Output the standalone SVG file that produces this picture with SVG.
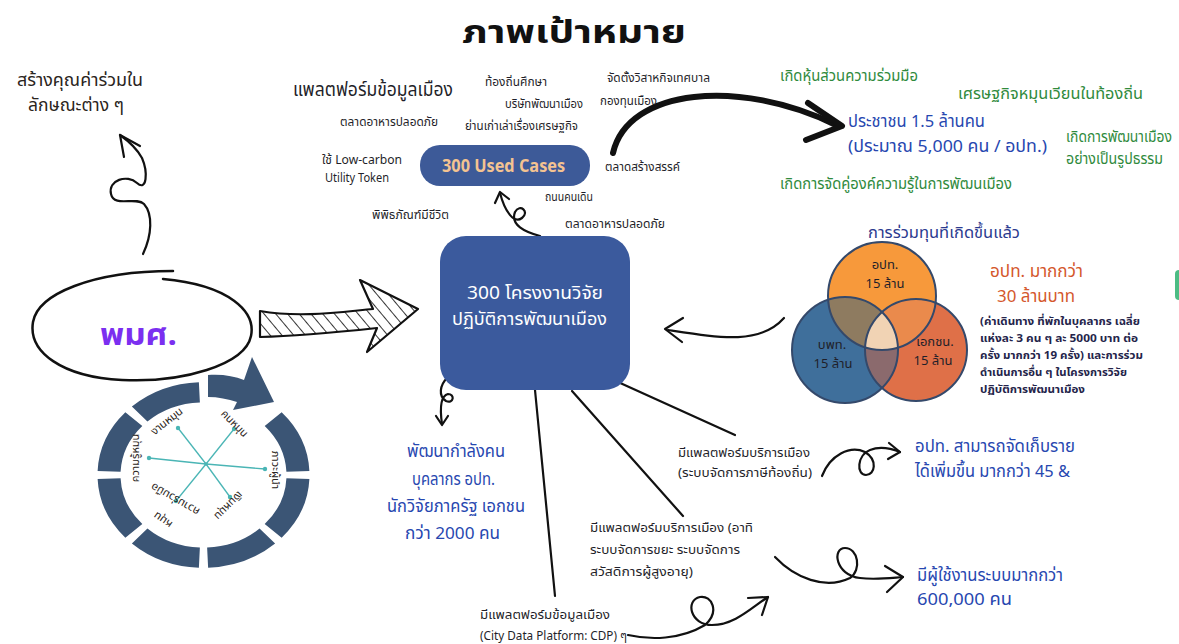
<svg xmlns="http://www.w3.org/2000/svg" width="1179" height="644" viewBox="0 0 1179 644">
<style>
text{font-family:'Noto Sans Thai','Noto Sans','DejaVu Sans',sans-serif;}
.dk{fill:#1f1f2a;font-size:12px}
.bl{fill:#2747b0;font-size:17px}
.gr{fill:#2f8a3c;font-size:15px}
.nv{fill:#24244a;font-size:11px;font-weight:bold}
.ring{fill:#3b5575}
.ln{fill:none;stroke:#111;stroke-width:2.2;stroke-linecap:round;stroke-linejoin:round}
.spk{stroke:#4ab5b5;stroke-width:1.3}
.dot{fill:#4ab5b5}
</style>
<defs>
<pattern id="hatch" width="9" height="9" patternUnits="userSpaceOnUse" patternTransform="rotate(-40)">
<line x1="0" y1="0" x2="0" y2="9" stroke="#111" stroke-width="1.7"/>
</pattern>
<clipPath id="cA"><circle cx="882" cy="296" r="54"/></clipPath>
<clipPath id="cB"><circle cx="845" cy="350" r="53"/></clipPath>
</defs>
<rect width="1179" height="644" fill="#ffffff"/>

<text x="462" y="43" textLength="224" lengthAdjust="spacingAndGlyphs" style="font-size:32px;font-weight:bold;fill:#111">ภาพเป้าหมาย</text>

<g id="connectors">
<path class="ln" d="M143,254 C152,235 153,214 144,204 C136,196 114,208 111,194 C108,180 127,174 137,183 C147,192 148,172 142,158 C136,147 127,140 120,135"/>
<path class="ln" d="M140,146 L120,135 L124,157"/>
<path class="ln" d="M540,236 C525,232 510,225 515,212 C520,203 530,212 522,218 C514,224 505,212 500,193"/>
<path class="ln" d="M495,203 L500,192 L509,199"/>
<path d="M613,153 C628,88 740,78 836,125" fill="none" stroke="#111" stroke-width="6" stroke-linecap="round"/>
<path d="M808,103 L842,126 L806,140" fill="none" stroke="#111" stroke-width="6" stroke-linecap="round" stroke-linejoin="round"/>
<path class="ln" d="M784,318 C760,345 720,338 668,330" stroke-width="2"/>
<path class="ln" d="M683,318 L665,329 L682,342"/>
<path class="ln" d="M447,378 C440,385 438,396 446,401 C454,404 455,394 448,394 C440,396 440,410 442,424"/>
<path class="ln" d="M436,416 L442,425 L448,416"/>
<line class="ln" x1="535" y1="390" x2="555" y2="596"/>
<line class="ln" x1="572" y1="391" x2="683" y2="516"/>
<line class="ln" x1="618" y1="382" x2="735" y2="435"/>
<path class="ln" d="M822,476 C830,455 850,445 865,452 C878,460 875,475 866,475 C856,475 857,455 870,450 C880,446 890,448 900,452"/>
<path class="ln" d="M889,443 L900,452 L888,459"/>
<path class="ln" d="M775,557 C795,578 825,590 850,578 C862,570 858,548 845,548 C832,548 835,575 860,578 C875,580 890,578 903,577"/>
<path class="ln" d="M885,566 L903,577 L887,592"/>
<path class="ln" d="M628,635 C650,640 680,640 705,625 C720,612 712,595 700,597 C685,600 690,625 712,625 C735,625 752,607 768,597"/>
<path class="ln" d="M748,598 L768,597 L762,615"/>
</g>

<g id="node-title-left">
<text x="17" y="86" textLength="126" lengthAdjust="spacingAndGlyphs" style="font-size:17px;fill:#2a2420">สร้างคุณค่าร่วมใน</text>
<text x="28" y="111" textLength="96" lengthAdjust="spacingAndGlyphs" style="font-size:17px;fill:#2a2420">ลักษณะต่าง ๆ</text>
</g>

<g id="node-pms">
<path d="M163,279 C230,285 256,312 251,336 C245,365 182,383 122,380 C62,377 28,352 33,322 C38,294 92,271 173,271" fill="none" stroke="#111" stroke-width="2.5" stroke-linecap="round"/>
<text x="100" y="345" textLength="77" lengthAdjust="spacingAndGlyphs" style="font-size:30px;font-weight:bold;fill:#7b2ff0">พมศ.</text>
</g>

<g id="node-hatch-arrow">
<path d="M260,311 C300,318 340,312 373,309 L360,280 L418,309 L367,352 L377,328 C330,333 300,336 260,337 Z" fill="url(#hatch)" stroke="#111" stroke-width="2.2" stroke-linejoin="round"/>
</g>

<g id="node-cycle">
<g transform="translate(203.5,475) scale(1,0.875)">
<path class="ring" d="M78.15,-71.61 A106,106 0 0 1 105.89,-4.62 L82.92,-3.62 A83,83 0 0 0 61.2,-56.07 Z"/>
<path class="ring" d="M105.89,4.62 A106,106 0 0 1 78.15,71.61 L61.2,56.07 A83,83 0 0 0 82.92,3.62 Z"/>
<path class="ring" d="M71.61,78.15 A106,106 0 0 1 4.62,105.89 L3.62,82.92 A83,83 0 0 0 56.07,61.2 Z"/>
<path class="ring" d="M-4.62,105.89 A106,106 0 0 1 -71.61,78.15 L-56.07,61.2 A83,83 0 0 0 -3.62,82.92 Z"/>
<path class="ring" d="M-78.15,71.61 A106,106 0 0 1 -105.89,4.62 L-82.92,3.62 A83,83 0 0 0 -61.2,56.07 Z"/>
<path class="ring" d="M-105.89,-4.62 A106,106 0 0 1 -78.15,-71.61 L-61.2,-56.07 A83,83 0 0 0 -82.92,-3.62 Z"/>
<path class="ring" d="M-71.61,-78.15 A106,106 0 0 1 -4.62,-105.89 L-3.62,-82.92 A83,83 0 0 0 -56.07,-61.2 Z"/>
</g>
<path class="ring" d="M208,375 C222,374 234,376 244,380 L252,357 L274,402 L233,410 L237,402 C228,399 218,397 208,397 Z"/>
<g>
<line class="spk" x1="206" y1="464" x2="178" y2="428"/>
<line class="spk" x1="206" y1="464" x2="234" y2="429"/>
<line class="spk" x1="206" y1="464" x2="149" y2="458"/>
<line class="spk" x1="206" y1="464" x2="265" y2="469"/>
<line class="spk" x1="206" y1="464" x2="176" y2="501"/>
<line class="spk" x1="206" y1="464" x2="230" y2="497"/>
<circle class="dot" cx="178" cy="428" r="2.2"/>
<circle class="dot" cx="234" cy="429" r="2.2"/>
<circle class="dot" cx="149" cy="458" r="2.2"/>
<circle class="dot" cx="265" cy="469" r="2.2"/>
<circle class="dot" cx="176" cy="501" r="2.2"/>
<circle class="dot" cx="230" cy="497" r="2.2"/>
<circle class="dot" cx="206" cy="464" r="1.8"/>
</g>
<g style="font-size:11px;fill:#2a2420" text-anchor="middle">
<text transform="translate(169,424) rotate(-38)">งานหมุน</text>
<text transform="translate(232,426) rotate(45)">คนหมุน</text>
<text transform="translate(272,470) rotate(90)">ภาวะผู้นำ</text>
<text transform="translate(226,503) rotate(135)">เงินหมุน</text>
<text transform="translate(177,496) rotate(210)">ความร่วมมือ</text>
<text transform="translate(165,517) rotate(215)">หมุน</text>
<text transform="translate(139,458) rotate(-90)">ความรู้หมุน</text>
</g>
</g>

<g id="node-main">
<rect x="440" y="236" width="190" height="154" rx="26" fill="#3b5a9d"/>
<text x="467" y="299" textLength="136" lengthAdjust="spacingAndGlyphs" style="font-size:18px;fill:#fff">300 โครงงานวิจัย</text>
<text x="452" y="325" textLength="155" lengthAdjust="spacingAndGlyphs" style="font-size:18px;fill:#fff">ปฏิบัติการพัฒนาเมือง</text>
</g>

<g id="node-usedcases">
<rect x="420" y="145" width="170" height="41" rx="20" fill="#3d5a98"/>
<text x="442" y="172" textLength="123" lengthAdjust="spacingAndGlyphs" style="font-size:18px;font-weight:bold;fill:#f4c391">300 Used Cases</text>
</g>

<g id="node-usecase-labels">
<text x="293" y="96" textLength="160" lengthAdjust="spacingAndGlyphs" style="font-size:19px;fill:#1f1f2a">แพลตฟอร์มข้อมูลเมือง</text>
<text class="dk" x="340" y="126" textLength="98" lengthAdjust="spacingAndGlyphs">ตลาดอาหารปลอดภัย</text>
<text class="dk" x="322" y="164" textLength="80" lengthAdjust="spacingAndGlyphs">ใช้ Low-carbon</text>
<text class="dk" x="325" y="182" textLength="64" lengthAdjust="spacingAndGlyphs">Utility Token</text>
<text class="dk" x="372" y="219" textLength="77" lengthAdjust="spacingAndGlyphs">พิพิธภัณฑ์มีชีวิต</text>
<text class="dk" x="485" y="86" textLength="62" lengthAdjust="spacingAndGlyphs">ท้องถิ่นศึกษา</text>
<text class="dk" x="505" y="108" textLength="78" lengthAdjust="spacingAndGlyphs">บริษัทพัฒนาเมือง</text>
<text class="dk" x="465" y="130" textLength="113" lengthAdjust="spacingAndGlyphs">ย่านเก่าเล่าเรื่องเศรษฐกิจ</text>
<text class="dk" x="607" y="82" textLength="103" lengthAdjust="spacingAndGlyphs">จัดตั้งวิสาหกิจเทศบาล</text>
<text class="dk" x="600" y="105" textLength="57" lengthAdjust="spacingAndGlyphs">กองทุนเมือง</text>
<text class="dk" x="605" y="171" textLength="75" lengthAdjust="spacingAndGlyphs">ตลาดสร้างสรรค์</text>
<text class="dk" x="545" y="201" textLength="48" lengthAdjust="spacingAndGlyphs">ถนนคนเดิน</text>
<text class="dk" x="565" y="228" textLength="100" lengthAdjust="spacingAndGlyphs">ตลาดอาหารปลอดภัย</text>
</g>

<g id="node-outcomes">
<text class="gr" x="780" y="81" textLength="138" lengthAdjust="spacingAndGlyphs">เกิดหุ้นส่วนความร่วมมือ</text>
<text class="gr" x="958" y="99" textLength="185" lengthAdjust="spacingAndGlyphs">เศรษฐกิจหมุนเวียนในท้องถิ่น</text>
<text class="gr" x="1066" y="142" textLength="106" lengthAdjust="spacingAndGlyphs">เกิดการพัฒนาเมือง</text>
<text class="gr" x="1066" y="164" textLength="97" lengthAdjust="spacingAndGlyphs">อย่างเป็นรูปธรรม</text>
<text class="gr" x="780" y="189" textLength="232" lengthAdjust="spacingAndGlyphs">เกิดการจัดคู่องค์ความรู้ในการพัฒนเมือง</text>
<text class="bl" x="848" y="127" textLength="137" lengthAdjust="spacingAndGlyphs">ประชาชน 1.5 ล้านคน</text>
<text class="bl" x="848" y="152" textLength="199" lengthAdjust="spacingAndGlyphs">(ประมาณ 5,000 คน / อปท.)</text>
</g>

<g id="node-venn">
<text x="868" y="238" textLength="152" lengthAdjust="spacingAndGlyphs" style="font-size:16px;fill:#2b3a8f">การร่วมทุนที่เกิดขึ้นแล้ว</text>
<circle cx="882" cy="296" r="54" fill="#f7993b"/>
<circle cx="845" cy="350" r="53" fill="#3f6f9b"/>
<circle cx="916" cy="350" r="51" fill="#df7048"/>
<g clip-path="url(#cA)"><circle cx="845" cy="350" r="53" fill="#8e7b60"/><circle cx="916" cy="350" r="51" fill="#ea8a4c"/></g>
<g clip-path="url(#cB)"><circle cx="916" cy="350" r="51" fill="#8b6a6d"/></g>
<g clip-path="url(#cA)"><g clip-path="url(#cB)"><circle cx="916" cy="350" r="51" fill="#f1d3b4"/></g></g>
<g fill="none" stroke="#34496b" stroke-width="2">
<circle cx="882" cy="296" r="54"/>
<circle cx="845" cy="350" r="53"/>
<circle cx="916" cy="350" r="51"/>
</g>
<g text-anchor="middle" style="font-size:13px;fill:#1f1f2a">
<text x="885" y="269">อปท.</text>
<text x="885" y="288">15 ล้าน</text>
<text x="832" y="349">บพท.</text>
<text x="833" y="368">15 ล้าน</text>
<text x="935" y="346">เอกชน.</text>
<text x="933" y="365">15 ล้าน</text>
</g>
<text x="990" y="277" textLength="93" lengthAdjust="spacingAndGlyphs" style="font-size:17px;fill:#d4572c">อปท. มากกว่า</text>
<text x="997" y="302" textLength="78" lengthAdjust="spacingAndGlyphs" style="font-size:17px;fill:#d4572c">30 ล้านบาท</text>
<text class="nv" x="980" y="325" textLength="160" lengthAdjust="spacingAndGlyphs">(ค่าเดินทาง ที่พักในบุคลากร เฉลี่ย</text>
<text class="nv" x="980" y="342" textLength="158" lengthAdjust="spacingAndGlyphs">แห่งละ 3 คน ๆ ละ 5000 บาท ต่อ</text>
<text class="nv" x="980" y="359" textLength="163" lengthAdjust="spacingAndGlyphs">ครั้ง มากกว่า 19 ครั้ง)  และการร่วม</text>
<text class="nv" x="980" y="376" textLength="147" lengthAdjust="spacingAndGlyphs">ดำเนินการอื่น ๆ ในโครงการวิจัย</text>
<text class="nv" x="980" y="393" textLength="105" lengthAdjust="spacingAndGlyphs">ปฏิบัติการพัฒนาเมือง</text>
<rect x="1175" y="270" width="8" height="30" rx="4" fill="#4cbc84"/>
</g>

<g id="node-manpower">
<text class="bl" x="407" y="457" textLength="98" lengthAdjust="spacingAndGlyphs" style="font-size:17px">พัฒนากำลังคน</text>
<text class="bl" x="412" y="485" textLength="83" lengthAdjust="spacingAndGlyphs" style="font-size:17px">บุคลากร อปท.</text>
<text class="bl" x="387" y="512" textLength="138" lengthAdjust="spacingAndGlyphs" style="font-size:17px">นักวิจัยภาครัฐ เอกชน</text>
<text class="bl" x="405" y="539" textLength="95" lengthAdjust="spacingAndGlyphs" style="font-size:17px">กว่า 2000 คน</text>
</g>

<g id="node-platforms">
<text class="dk" x="678" y="457" textLength="132" lengthAdjust="spacingAndGlyphs" style="font-size:13px">มีแพลตฟอร์มบริการเมือง</text>
<text class="dk" x="678" y="477" textLength="134" lengthAdjust="spacingAndGlyphs" style="font-size:13px">(ระบบจัดการภาษีท้องถิ่น)</text>
<text class="dk" x="590" y="532" textLength="163" lengthAdjust="spacingAndGlyphs" style="font-size:13px">มีแพลตฟอร์มบริการเมือง (อาทิ</text>
<text class="dk" x="590" y="554" textLength="150" lengthAdjust="spacingAndGlyphs" style="font-size:13px">ระบบจัดการขยะ ระบบจัดการ</text>
<text class="dk" x="590" y="576" textLength="103" lengthAdjust="spacingAndGlyphs" style="font-size:13px">สวัสดิการผู้สูงอายุ)</text>
<text class="dk" x="480" y="619" textLength="130" lengthAdjust="spacingAndGlyphs" style="font-size:13px">มีแพลตฟอร์มข้อมูลเมือง</text>
<text class="dk" x="480" y="640" textLength="147" lengthAdjust="spacingAndGlyphs" style="font-size:13px">(City Data Platform: CDP) ๆ</text>
</g>

<g id="node-results">
<text class="bl" x="915" y="452" textLength="160" lengthAdjust="spacingAndGlyphs" style="font-size:17px">อปท. สามารถจัดเก็บราย</text>
<text class="bl" x="915" y="477" textLength="155" lengthAdjust="spacingAndGlyphs" style="font-size:17px">ได้เพิ่มขึ้น มากกว่า 45 &amp;</text>
<text class="bl" x="917" y="581" textLength="146" lengthAdjust="spacingAndGlyphs" style="font-size:17px">มีผู้ใช้งานระบบมากกว่า</text>
<text class="bl" x="917" y="605" textLength="95" lengthAdjust="spacingAndGlyphs" style="font-size:17px">600,000 คน</text>
</g>
</svg>
